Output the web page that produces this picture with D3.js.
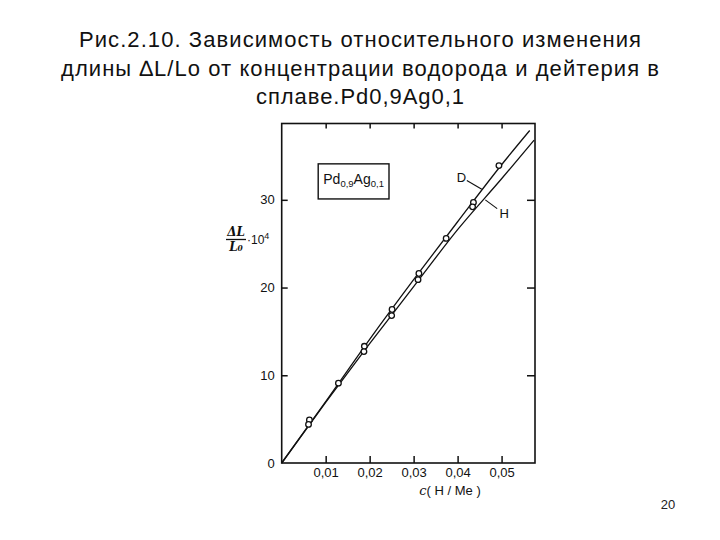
<!DOCTYPE html>
<html><head><meta charset="utf-8">
<script src="https://cdn.jsdelivr.net/npm/d3@7/dist/d3.min.js"></script>
<style>body{margin:0;background:#fff}svg{display:block}</style>
</head><body>
<svg id="chart" width="720" height="540"></svg>
<script>
// ---- data ----
const titleLines = [
  "Рис.2.10. Зависимость относительного изменения",
  "длины \u2206L/Lo от концентрации водорода и дейтерия в",
  "сплаве.Pd0,9Ag0,1"
];
const xTicks = [0.01, 0.02, 0.03, 0.04, 0.05];
const xTickLabels = ["0,01", "0,02", "0,03", "0,04", "0,05"];
const yTicks = [0, 10, 20, 30];
const yTickLabels = ["0", "10", "20", "30"];

// curves
const dCurveC = [0, 0.01, 0.02, 0.03, 0.04, 0.05, 0.0564];
const dCurveV = [0, 7.0, 14.1, 20.9, 27.5, 34.0, 37.9];
const hCurveC = [0, 0.01, 0.02, 0.03, 0.04, 0.05, 0.0574];
const hCurveV = [0, 6.9, 13.6, 20.1, 26.6, 32.4, 36.8];

// measured points
const dPointsC = [0.0063, 0.0188, 0.0251, 0.0312, 0.0374, 0.0436, 0.0494];
const dPointsV = [4.9, 13.3, 17.5, 21.6, 25.6, 29.7, 33.9];
const hPointsC = [0.0061, 0.0129, 0.0187, 0.0250, 0.0310, 0.0434];
const hPointsV = [4.4, 9.1, 12.7, 16.8, 20.9, 29.2];

// ---- layout ----
const svg = d3.select("#chart");
const L = 281.7, R = 535, T = 123.5, B = 463;
const x = d3.scaleLinear().domain([0, 0.0576]).range([L, R]);
const y = d3.scaleLinear().domain([0, 38.7]).range([B, T]);

// title
const titleY = [47, 76, 104], titleW = [562, 598, 208];
svg.append("g").selectAll("text").data(titleLines).join("text")
  .attr("x", 360).attr("y", (d, i) => titleY[i])
  .attr("text-anchor", "middle")
  .attr("font-family", "Liberation Sans, Arial, sans-serif")
  .attr("font-size", 22).attr("fill", "#111")
  .attr("textLength", (d, i) => titleW[i]).attr("lengthAdjust", "spacing")
  .text(d => d);

// page number
svg.append("text").attr("x", 668).attr("y", 509).attr("text-anchor", "middle")
  .attr("font-family", "Liberation Sans, Arial, sans-serif").attr("font-size", 13)
  .attr("fill", "#222").text("20");

// frame
const ink = "#111";
svg.append("rect").attr("x", L).attr("y", T).attr("width", R - L).attr("height", B - T)
  .attr("fill", "none").attr("stroke", ink).attr("stroke-width", 1.6);

// axes with inward ticks
const fontAx = "Liberation Sans Narrow, Liberation Sans, Arial, sans-serif";
const gx = svg.append("g").attr("transform", `translate(0,${B})`)
  .call(d3.axisBottom(x).tickValues(xTicks).tickFormat((d, i) => xTickLabels[i]).tickSizeInner(-7).tickSizeOuter(0).tickPadding(5));
const gxt = svg.append("g").attr("transform", `translate(0,${T})`)
  .call(d3.axisTop(x).tickValues(xTicks).tickFormat("").tickSizeInner(-5).tickSizeOuter(0));
const gy = svg.append("g").attr("transform", `translate(${L},0)`)
  .call(d3.axisLeft(y).tickValues(yTicks).tickFormat((d, i) => yTickLabels[i]).tickSizeInner(-6).tickSizeOuter(0).tickPadding(7));
const gyr = svg.append("g").attr("transform", `translate(${R},0)`)
  .call(d3.axisRight(y).tickValues(yTicks.slice(1)).tickFormat("").tickSizeInner(-8).tickSizeOuter(0));
[gx, gxt, gy, gyr].forEach(g => {
  g.select(".domain").remove();
  g.selectAll("line").attr("stroke", ink).attr("stroke-width", 1.5);
  g.selectAll("text").attr("font-family", fontAx).attr("font-size", 13).attr("fill", ink);
});
gy.selectAll(".tick").filter(d => d === 0).select("line").remove();

// axis labels
svg.append("text").attr("x", 450).attr("y", 495).attr("text-anchor", "middle")
  .attr("font-family", fontAx).attr("font-size", 13).attr("fill", ink)
  .html('<tspan font-style="italic" font-family="DejaVu Serif, serif">c</tspan>( H / Me )');

const yl = svg.append("g");
yl.append("text").attr("x", 236).attr("y", 236).attr("text-anchor", "middle")
  .attr("font-family", "DejaVu Serif, serif").attr("font-style", "italic").attr("font-weight", "bold")
  .attr("font-size", 12).attr("fill", ink).text("\u0394L");
yl.append("line").attr("x1", 226).attr("x2", 246).attr("y1", 239.5).attr("y2", 239.5)
  .attr("stroke", ink).attr("stroke-width", 1.3);
yl.append("text").attr("x", 236).attr("y", 251).attr("text-anchor", "middle")
  .attr("font-family", "DejaVu Serif, serif").attr("font-style", "italic").attr("font-weight", "bold")
  .attr("font-size", 12).attr("fill", ink).text("L\u2080");
yl.append("text").attr("x", 247).attr("y", 244)
  .attr("font-family", fontAx).attr("font-size", 12).attr("fill", ink)
  .html('·10<tspan dy="-5" font-size="9">4</tspan>');

// curves
const line = d3.line().x(d => x(d[0])).y(d => y(d[1])).curve(d3.curveMonotoneX);
const dCurve = dCurveC.map((c, i) => [c, dCurveV[i]]);
const hCurve = hCurveC.map((c, i) => [c, hCurveV[i]]);
[dCurve, hCurve].forEach(pts => {
  svg.append("path").attr("d", line(pts)).attr("fill", "none")
    .attr("stroke", ink).attr("stroke-width", 1.3);
});

// points
const dPts = dPointsC.map((c, i) => [c, dPointsV[i]]);
const hPts = hPointsC.map((c, i) => [c, hPointsV[i]]);
svg.append("g").selectAll("circle").data(dPts.concat(hPts)).join("circle")
  .attr("cx", d => x(d[0])).attr("cy", d => y(d[1])).attr("r", 2.8)
  .attr("fill", "#fff").attr("stroke", ink).attr("stroke-width", 1.3);

// curve labels with leaders (data-space anchors)
const labels = [
  {t: "D", c: 0.0409, v: 32.5, l: [[0.0421, 32.2], [0.0455, 31.2]]},
  {t: "H", c: 0.0506, v: 28.5, l: [[0.0463, 30.0], [0.0490, 29.0]]}
];
labels.forEach(o => {
  svg.append("line").attr("x1", x(o.l[0][0])).attr("y1", y(o.l[0][1]))
    .attr("x2", x(o.l[1][0])).attr("y2", y(o.l[1][1])).attr("stroke", ink).attr("stroke-width", 1.1);
  svg.append("text").attr("x", x(o.c)).attr("y", y(o.v)).attr("dy", "0.35em")
    .attr("text-anchor", "middle").attr("font-family", "Liberation Sans, Arial, sans-serif")
    .attr("font-size", 13).attr("fill", ink).text(o.t);
});

// alloy box
const box = {c0: 0.0083, c1: 0.0244, v0: 30.1, v1: 34.1};
svg.append("rect").attr("x", x(box.c0)).attr("y", y(box.v1))
  .attr("width", x(box.c1) - x(box.c0)).attr("height", y(box.v0) - y(box.v1))
  .attr("fill", "none").attr("stroke", ink).attr("stroke-width", 1.4);
svg.append("text").attr("x", (x(box.c0) + x(box.c1)) / 2).attr("y", (y(box.v0) + y(box.v1)) / 2 + 3)
  .attr("text-anchor", "middle").attr("font-family", "Liberation Sans, Arial, sans-serif")
  .attr("font-size", 14).attr("fill", ink)
  .html('Pd<tspan dy="3" font-size="9.5">0,9</tspan><tspan dy="-3">Ag</tspan><tspan dy="3" font-size="9.5">0,1</tspan>');
</script>
</body></html>
